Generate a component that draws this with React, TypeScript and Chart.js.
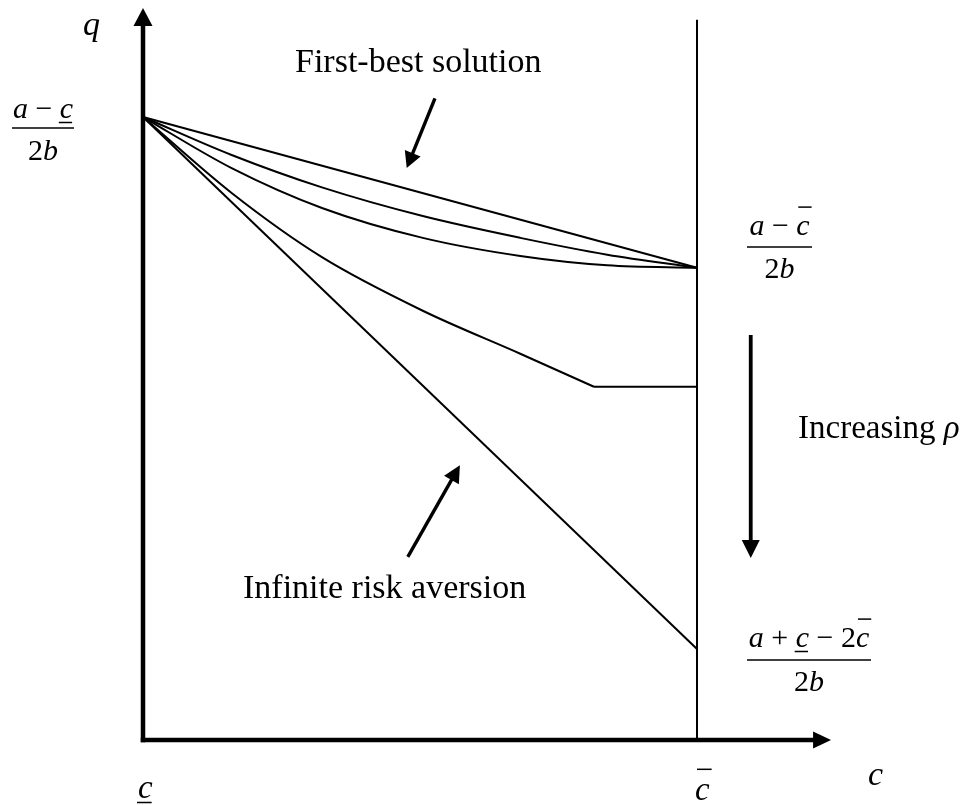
import { useEffect, useRef } from "react";
import { Chart, registerables } from "chart.js";
Chart.register(...registerables);

const W = 967;
const H = 805;

// c normalised so that c_low = 0 and c_bar = 1; q normalised so that (a - c_low)/2b = 1
const firstBestC = [0, 1];
const firstBestQ = [1.0, 0.758];
const midHighC = [0, 0.16, 0.323, 0.505, 0.681, 0.838, 1];
const midHighQ = [1.0, 0.939, 0.887, 0.841, 0.806, 0.779, 0.758];
const midLowC = [0, 0.16, 0.323, 0.505, 0.681, 0.838, 1];
const midLowQ = [1.0, 0.918, 0.854, 0.806, 0.777, 0.762, 0.758];
const cappedC = [0, 0.16, 0.323, 0.505, 0.681, 0.814];
const cappedQ = [1.0, 0.878, 0.775, 0.689, 0.62, 0.567];
const floorC = [0.814, 1];
const floorQ = [0.567, 0.567];
const infiniteC = [0, 1];
const infiniteQ = [1.0, 0.146];
const cBarC = [1, 1];
const cBarQ = [0, 1.156];

const X_MAX = 1.25;
const Y_MAX = 1.175;

const zip = (xs: number[], ys: number[]) => xs.map((x, i) => ({ x, y: ys[i] }));

const SERIF = '"Liberation Serif", "Times New Roman", serif';

type Part = { t: string; i?: boolean; under?: boolean; over?: boolean };

function drawRich(
  ctx: CanvasRenderingContext2D,
  parts: Part[],
  x: number,
  baseline: number,
  size: number,
  align: "left" | "center"
) {
  const font = (it?: boolean) => `${it ? "italic " : ""}${size}px ${SERIF}`;
  let total = 0;
  const widths = parts.map((p) => {
    ctx.font = font(p.i);
    const w = ctx.measureText(p.t).width;
    total += w;
    return w;
  });
  let cx = align === "center" ? x - total / 2 : x;
  ctx.textAlign = "left";
  ctx.textBaseline = "alphabetic";
  ctx.fillStyle = "#000";
  parts.forEach((p, k) => {
    ctx.font = font(p.i);
    ctx.fillText(p.t, cx, baseline);
    const w = widths[k];
    if (p.under || p.over) {
      ctx.beginPath();
      ctx.lineWidth = 1.5;
      ctx.strokeStyle = "#000";
      if (p.under) {
        ctx.moveTo(cx - 1, baseline + 4.5);
        ctx.lineTo(cx + w - 1, baseline + 4.5);
      } else {
        ctx.moveTo(cx + 2, baseline - size * 0.93);
        ctx.lineTo(cx + w + 2, baseline - size * 0.93);
      }
      ctx.stroke();
    }
    cx += w;
  });
  return total;
}

function fraction(
  ctx: CanvasRenderingContext2D,
  num: Part[],
  cx: number,
  numBase: number,
  barY: number,
  barL: number,
  barR: number,
  denBase: number,
  size: number
) {
  drawRich(ctx, num, cx, numBase, size, "center");
  ctx.beginPath();
  ctx.lineWidth = 1.6;
  ctx.strokeStyle = "#000";
  ctx.moveTo(barL, barY);
  ctx.lineTo(barR, barY);
  ctx.stroke();
  drawRich(ctx, [{ t: "2" }, { t: "b", i: true }], cx, denBase, size, "center");
}

function arrow(
  ctx: CanvasRenderingContext2D,
  x1: number,
  y1: number,
  x2: number,
  y2: number,
  lw: number,
  headLen: number,
  headHalf: number
) {
  const dx = x2 - x1;
  const dy = y2 - y1;
  const len = Math.hypot(dx, dy);
  const ux = dx / len;
  const uy = dy / len;
  const bx = x2 - ux * headLen;
  const by = y2 - uy * headLen;
  ctx.beginPath();
  ctx.lineWidth = lw;
  ctx.strokeStyle = "#000";
  ctx.lineCap = "butt";
  ctx.moveTo(x1, y1);
  ctx.lineTo(bx + ux, by + uy);
  ctx.stroke();
  ctx.beginPath();
  ctx.fillStyle = "#000";
  ctx.moveTo(x2, y2);
  ctx.lineTo(bx - uy * headHalf, by + ux * headHalf);
  ctx.lineTo(bx + uy * headHalf, by - ux * headHalf);
  ctx.closePath();
  ctx.fill();
}

const decorations = {
  id: "decorations",
  afterDatasetsDraw(chart: any) {
    const ctx: CanvasRenderingContext2D = chart.ctx;
    const xs = chart.scales.x;
    const ys = chart.scales.y;
    const P = (c: number, q: number) => [xs.getPixelForValue(c), ys.getPixelForValue(q)];
    ctx.save();
    const [ox, oy] = P(0, 0);

    // axes with arrow heads
    const [, yTip] = P(0, Y_MAX);
    arrow(ctx, ox, oy + 2.25, ox, yTip, 4.5, 18, 9.5);
    const [xTip] = P(1.242, 0);
    arrow(ctx, ox - 2.25, oy, xTip, oy, 4.5, 18, 8.5);

    // annotation arrows
    const [a1x, a1y] = P(0.527, 1.03);
    const [a1tx, a1ty] = P(0.476, 0.918);
    arrow(ctx, a1x, a1y, a1tx, a1ty, 3.4, 16, 8.5);
    const [a2x, a2y] = P(0.478, 0.294);
    const [a2tx, a2ty] = P(0.572, 0.441);
    arrow(ctx, a2x, a2y, a2tx, a2ty, 3.4, 17, 8.5);
    const [a3x, a3y] = P(1.097, 0.65);
    const [a3tx, a3ty] = P(1.097, 0.292);
    arrow(ctx, a3x, a3y, a3tx, a3ty, 3.8, 18, 9);

    // text
    drawRich(ctx, [{ t: "q", i: true }], 83, 35, 34, "left");
    drawRich(ctx, [{ t: "First-best solution" }], 295, 72, 34, "left");
    drawRich(ctx, [{ t: "Infinite risk aversion" }], 243, 598, 34, "left");
    drawRich(ctx, [{ t: "Increasing " }, { t: "ρ", i: true }], 798, 438, 33, "left");
    drawRich(ctx, [{ t: "c", i: true }], 868, 785, 34, "left");
    drawRich(ctx, [{ t: "c", i: true, under: true }], 138, 798, 33, "left");
    drawRich(ctx, [{ t: "c", i: true, over: true }], 695, 800, 33, "left");

    fraction(
      ctx,
      [{ t: "a", i: true }, { t: " − " }, { t: "c", i: true, under: true }],
      43, 118, 128, 12, 74, 160, 30
    );
    fraction(
      ctx,
      [{ t: "a", i: true }, { t: " − " }, { t: "c", i: true, over: true }],
      779.5, 235, 247, 747, 812, 278, 30
    );
    fraction(
      ctx,
      [
        { t: "a", i: true },
        { t: " + " },
        { t: "c", i: true, under: true },
        { t: " − 2" },
        { t: "c", i: true, over: true },
      ],
      809, 647, 660, 747, 871, 691, 30
    );
    ctx.restore();
  },
};

export default function App() {
  const ref = useRef<HTMLCanvasElement | null>(null);
  useEffect(() => {
    if (!ref.current) return;
    const base = {
      borderColor: "#000",
      borderWidth: 2,
      pointRadius: 0,
      showLine: true,
      fill: false,
      clip: false as any,
    };
    const chart = new Chart(ref.current, {
      type: "scatter",
      data: {
        datasets: [
          { ...base, label: "First-best solution", data: zip(firstBestC, firstBestQ), tension: 0 },
          { ...base, label: "Low rho", data: zip(midHighC, midHighQ), cubicInterpolationMode: "monotone" },
          { ...base, label: "Medium rho", data: zip(midLowC, midLowQ), cubicInterpolationMode: "monotone" },
          { ...base, label: "High rho", data: zip(cappedC, cappedQ), cubicInterpolationMode: "monotone" },
          { ...base, label: "High rho floor", data: zip(floorC, floorQ), tension: 0 },
          { ...base, label: "Infinite risk aversion", data: zip(infiniteC, infiniteQ), tension: 0 },
          { ...base, label: "c bar", data: zip(cBarC, cBarQ), tension: 0, borderWidth: 2 },
        ] as any,
      },
      options: {
        animation: false,
        responsive: false,
        devicePixelRatio: 1,
        layout: { padding: { left: 143, right: W - 143 - 554 * X_MAX, top: 8, bottom: H - 740 } },
        scales: {
          x: { type: "linear", min: 0, max: X_MAX, display: false },
          y: { type: "linear", min: 0, max: Y_MAX, display: false },
        },
        plugins: {
          legend: { display: false },
          tooltip: { enabled: false },
        },
        events: [],
      },
      plugins: [decorations],
    });
    return () => chart.destroy();
  }, []);
  return (
    <div style={{ position: "fixed", left: 0, top: 0, width: W, height: H, background: "#fff" }}>
      <canvas ref={ref} width={W} height={H} style={{ width: W, height: H, display: "block" }} />
    </div>
  );
}
